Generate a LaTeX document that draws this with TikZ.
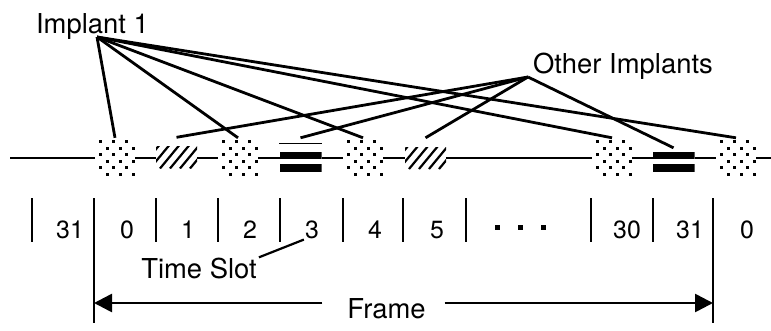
\documentclass[tikz,border=0pt]{standalone}
\usepackage{fontspec}
\setmainfont{TeX Gyre Heros}
\usetikzlibrary{arrows.meta}
\tikzset{
  conn/.style={line width=2.8bp},
  baseln/.style={line width=2bp},
  tickln/.style={line width=2.8bp},
  lbl/.style={font=\fontsize{27.5}{32}\selectfont, inner sep=0pt, anchor=base},
  numlbl/.style={font=\fontsize{25}{30}\selectfont, inner sep=1bp, anchor=base},
  dotbox/.style={minimum width=40bp, minimum height=40bp, inner sep=0pt, fill=white,
    path picture={
      \foreach \r in {0,...,6}{
        \foreach \c in {0,...,3}{
          \pgfmathsetmacro\dx{4+13*\c+6.5*mod(\r,2)}
          \pgfmathsetmacro\dy{2+6.5*\r}
          \fill[black] ([xshift=\dx bp,yshift=-\dy bp]path picture bounding box.north west) rectangle +(3bp,-3bp);
        }
      }
    }},
  hatchbox/.style={minimum width=41bp, minimum height=22bp, inner sep=0pt, fill=white,
    path picture={
      \foreach \i in {-2,...,3}{
        \draw[black, line width=2.2bp] ([xshift=\i*10bp+4bp]path picture bounding box.south west) -- ++(19bp,23bp);
      }
    }},
  dbar/.style={minimum width=42bp, minimum height=30bp, inner sep=0pt, fill=white,
    path picture={
      \fill[black] ([yshift=-9bp]path picture bounding box.north west) rectangle ([yshift=-16bp]path picture bounding box.north east);
      \fill[black] ([yshift=-21bp]path picture bounding box.north west) rectangle ([yshift=-29bp]path picture bounding box.north east);
    }},
  farrow/.style={line width=2.6bp, -{Triangle[length=18bp,width=18bp]}},
}
\begin{document}
\begin{tikzpicture}[x=1bp,y=-1bp]
\useasboundingbox (0,0) rectangle (771,330);

% baseline
\coordinate (bl) at (10,158);
\coordinate (br) at (771,158);
\draw[baseln] (bl) -- (br);

% pulses
\node[dotbox] (p0) at (115,158) {};
\node[hatchbox] (h1) at (176.5,157.5) {};
\node[dotbox] (p2) at (238,158) {};
\node[dbar] (d3) at (300.5,158) {};
\draw[line width=1.2bp] ([yshift=-1bp]d3.north west) -- ([yshift=-1bp]d3.north east);
\node[dotbox] (p4) at (363,158) {};
\node[hatchbox] (h5) at (425.5,158) {};
\node[dotbox] (p30) at (612,158) {};
\node[dbar] (d31) at (673.5,158) {};
\node[dotbox] (p0b) at (736,158) {};

% labels
\node[lbl] (impl) at (92.5,33) {Implant 1};
\node[lbl] (other) at (623,73) {Other Implants};
\coordinate (i1) at (97,37);
\coordinate (oi) at (528,77);

% connectors from Implant 1
\foreach \t in {p0,p2,p4,p30,p0b}{
  \draw[conn] (i1) -- (\t.north);
}
% connectors from Other Implants
\draw[conn] (oi) -- ([yshift=9bp]h1.north);
\draw[conn] (oi) -- ([yshift=5bp]d3.north);
\draw[conn] (oi) -- ([yshift=9bp]h5.north);
\draw[conn] (oi) -- ([yshift=-5bp]d31.north);

% ticks
\foreach \x in {32,156,218,280,343,403,466,591,653}{
  \draw[tickln] (\x,198) -- (\x,242);
}
\coordinate (lt) at (94,198);
\coordinate (lb) at (94,323);
\coordinate (rt) at (713,198);
\coordinate (rb) at (713,323);
\draw[tickln] (lt) -- (lb);
\draw[tickln] (rt) -- (rb);

% slot numbers
\node[numlbl] (n31a) at (70,238) {31};
\node[numlbl] (n0) at (127,238) {0};
\node[numlbl] (n1) at (188,238) {1};
\node[numlbl] (n2) at (250,238) {2};
\node[numlbl] (n3) at (312,238) {3};
\node[numlbl] (n4) at (375,238) {4};
\node[numlbl] (n5) at (437,238) {5};
\node[inner sep=0pt] (dots) at (520,227) {\rule{5bp}{5bp}\hspace{18bp}\rule{5bp}{5bp}\hspace{18bp}\rule{5bp}{5bp}};
\node[numlbl] (n30) at (627,238) {30};
\node[numlbl] (n31b) at (690,238) {31};
\node[numlbl] (n0b) at (747,238) {0};

% time slot
\node[lbl] (ts) at (199,278) {Time Slot};
\draw[conn, line width=2.2bp] ([xshift=2bp]ts.north east) -- (n3.south west);

% frame
\coordinate (fl) at (94,303);
\coordinate (fr) at (713,303);
\node[lbl] (frame) at (386.5,318) {Frame};
\draw[farrow] ([xshift=-25bp]frame.west |- fl) -- (fl);
\draw[farrow] ([xshift=19bp]frame.east |- fr) -- (fr);
\end{tikzpicture}
\end{document}
